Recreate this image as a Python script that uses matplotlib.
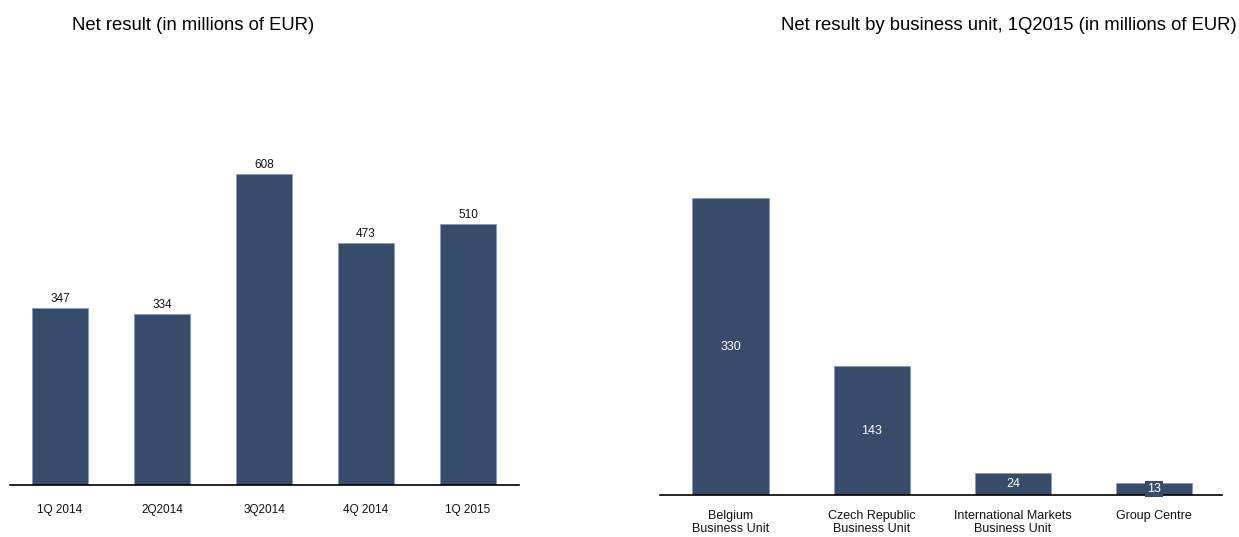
import matplotlib.pyplot as plt

plt.rcParams['font.family'] = ['Liberation Sans', 'DejaVu Sans']

# Data
quarters = ['1Q 2014', '2Q2014', '3Q2014', '4Q 2014', '1Q 2015']
net_result = [347, 334, 608, 473, 510]

units = ['Belgium\nBusiness Unit', 'Czech Republic\nBusiness Unit',
         'International Markets\nBusiness Unit', 'Group Centre']
unit_result = [330, 143, 24, 13]

bar_color = '#374c6b'
text_color = '#111111'

fig = plt.figure(figsize=(12.39, 5.37), dpi=100)

# Left chart: net result by quarter
ax1 = fig.add_axes([10 / 1239, 52 / 537, 509 / 1239, 357.7 / 537])
x1 = range(len(quarters))
ax1.bar(x1, net_result, width=0.55, color=bar_color, edgecolor='#8a9bb5', linewidth=0.6)
for i, v in enumerate(net_result):
    ax1.text(i, v + 6, str(v), ha='center', va='bottom', fontsize=8.5, color=text_color)
ax1.set_xlim(-0.49, 4.5)
ax1.set_ylim(0, 700)
ax1.set_xticks(list(x1))
ax1.set_xticklabels(quarters, fontsize=8.5, color=text_color)
ax1.tick_params(axis='x', length=0, pad=14)
ax1.set_yticks([])
for s in ['top', 'left', 'right']:
    ax1.spines[s].set_visible(False)
ax1.spines['bottom'].set_linewidth(1.2)

# Right chart: net result by business unit
ax2 = fig.add_axes([660 / 1239, 42 / 537, 562 / 1239, 360 / 537])
x2 = range(len(units))
ax2.bar(x2, unit_result, width=0.54, color=bar_color, edgecolor='#8a9bb5', linewidth=0.6)
for i, v in enumerate(unit_result):
    bbox = None
    if v < 20:
        bbox = dict(boxstyle='square,pad=0.15', facecolor=bar_color, edgecolor='none')
    ax2.text(i, v / 2, str(v), ha='center', va='center', fontsize=9,
             color='white', bbox=bbox)
ax2.set_xlim(-0.5, 3.48)
ax2.set_ylim(0, 400)
ax2.set_xticks(list(x2))
ax2.set_xticklabels(units, fontsize=9, color=text_color, linespacing=1.05)
ax2.tick_params(axis='x', length=0, pad=11)
ax2.set_yticks([])
for s in ['top', 'left', 'right']:
    ax2.spines[s].set_visible(False)
ax2.spines['bottom'].set_linewidth(1.2)

# Titles
fig.text(72 / 1239, 1 - 25 / 537, 'Net result (in millions of EUR)',
         ha='left', va='center', fontsize=13.3, color='black')
fig.text(1237 / 1239, 1 - 25 / 537, 'Net result by business unit, 1Q2015 (in millions of EUR)',
         ha='right', va='center', fontsize=13.3, color='black')

fig.savefig('out.png', dpi=100)
